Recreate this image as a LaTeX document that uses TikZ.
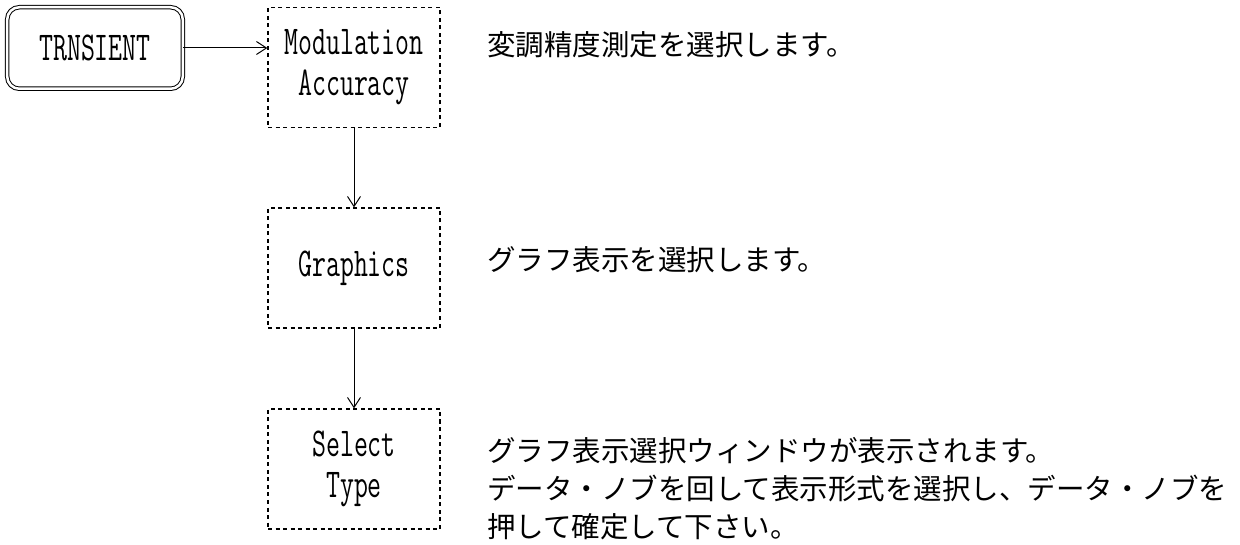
\documentclass[tikz,border=0pt]{standalone}
\usepackage{fontspec}
\usepackage{graphicx}
\usetikzlibrary{arrows.meta}
\newfontfamily\cjk{Noto Sans CJK JP}
\newcommand\cnd[1]{\scalebox{0.66}[1]{#1}}
\tikzset{
  menubox/.style={draw, line width=1.3bp, dash pattern=on 4bp off 3.5bp,
    minimum width=172bp, minimum height=120bp, inner sep=0pt, align=center,
    font=\fontsize{41bp}{41bp}\selectfont\ttfamily},
  keybox/.style={draw, double, double distance=2.5bp, line width=1bp,
    rounded corners=12bp, minimum width=175.5bp, minimum height=81.5bp,
    inner sep=0pt, font=\fontsize{41bp}{41bp}\selectfont\ttfamily},
  conn/.style={line width=1bp, -{Straight Barb[length=10bp,width=13bp]}},
  desc/.style={anchor=west, inner sep=0pt, align=left,
    font=\cjk\fontsize{28.5bp}{38bp}\selectfont}
}
\begin{document}
\begin{tikzpicture}[x=1bp,y=-1bp]
\useasboundingbox (0,0) rectangle (1240,545);
\node[keybox] (trn) at (95,48) {\cnd{TRNSIENT}};
\node[menubox] (mod) at (354,67.5) {\cnd{Modulation}\\\cnd{Accuracy}};
\node[menubox] (gra) at (354,268) {\raisebox{8bp}{\cnd{Graphics}}};
\node[menubox] (sel) at (354,469) {\cnd{Select}\\\cnd{Type}};
\draw[conn] (trn.east) -- (trn.east -| mod.west);
\draw[conn] (mod.south) -- (gra.north);
\draw[conn] (gra.south) -- (sel.north);
\node[desc] (d1) at (487,45) {変調精度測定を選択します。};
\node[desc] (d2) at (487,260) {グラフ表示を選択します。};
\node[desc] (d3) at (487,489) {グラフ表示選択ウィンドウが表示されます。\\データ・ノブを回して表示形式を選択し、データ・ノブを\\押して確定して下さい。};
\end{tikzpicture}
\end{document}
